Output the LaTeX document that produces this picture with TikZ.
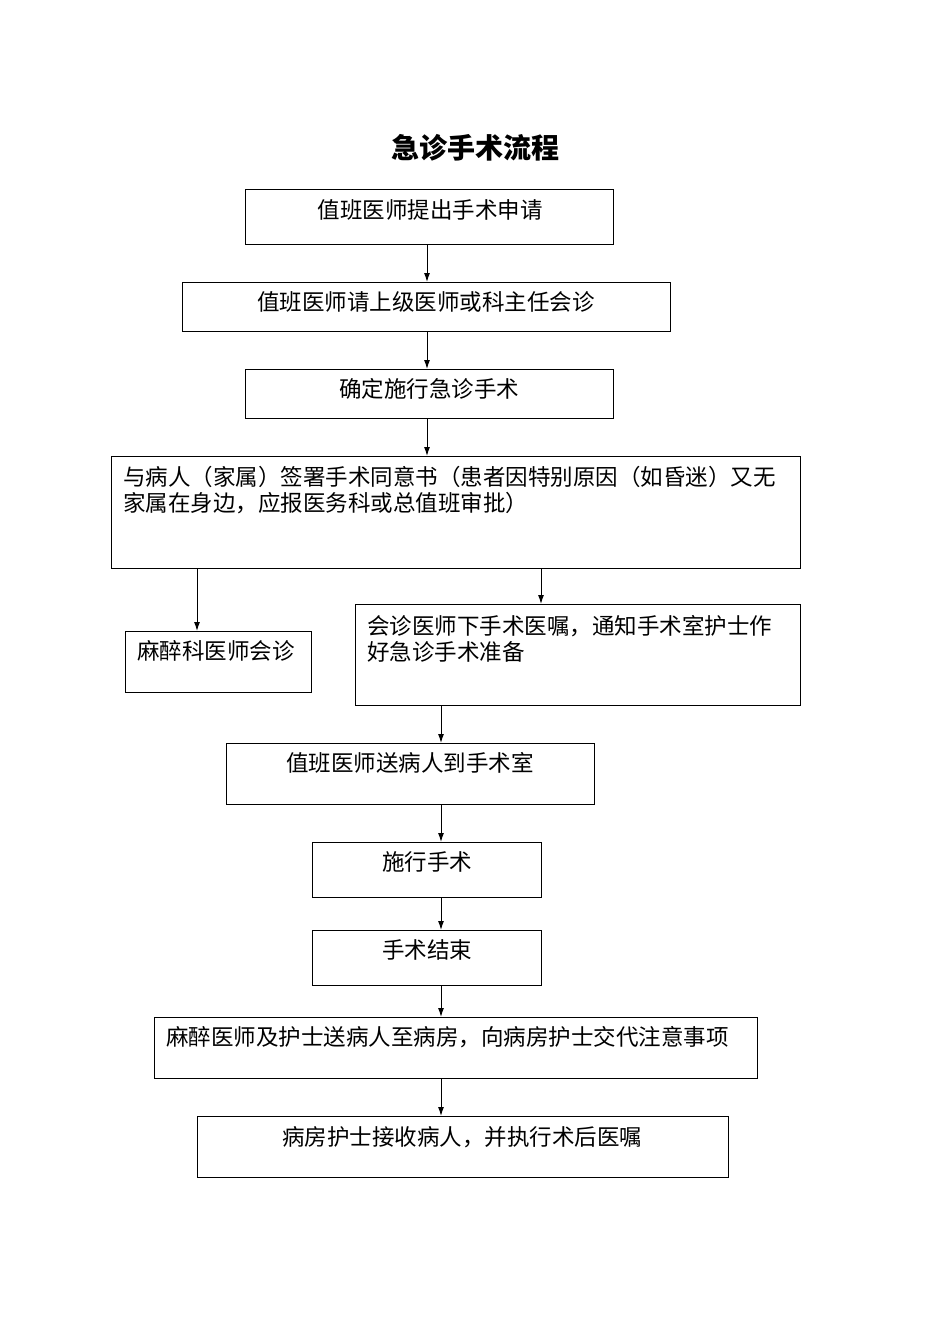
\documentclass[tikz,border=0pt]{standalone}
\usepackage{fontspec}
\setmainfont{Noto Sans CJK SC}
\usetikzlibrary{arrows.meta}
\begin{document}
\begin{tikzpicture}[x=1pt,y=-1pt,
  box/.style={draw,line width=1pt,inner sep=0pt},
  txt/.style={font=\fontsize{22.5}{25.5}\selectfont,inner sep=0pt},
  arr/.style={line width=1pt,-{Latex[length=9pt,width=6pt]}}]
\useasboundingbox (0,0) rectangle (950,1344);
\node[font=\fontsize{28}{30}\selectfont\bfseries,inner sep=0pt] (title) at (475,148) {急诊手术流程};
\newcommand{\mybox}[5]{\node[box,minimum width=#4-#2,minimum height=#5-#3,anchor=north west] (#1) at (#2,#3) {};}
\mybox{b1}{245}{189}{613}{244}
\mybox{b2}{182}{282}{670}{331}
\mybox{b3}{245}{369}{613}{418}
\mybox{b4}{111}{456}{800}{568}
\mybox{b5}{125}{631}{311}{692}
\mybox{b6}{355}{604}{800}{705}
\mybox{b7}{226}{743}{594}{804}
\mybox{b8}{312}{842}{541}{897}
\mybox{b9}{312}{930}{541}{985}
\mybox{b10}{154}{1017}{757}{1078}
\mybox{b11}{197}{1116}{728}{1177}
\node[txt] (t1) at (430,210) {值班医师提出手术申请};
\node[txt] (t2) at (426,302) {值班医师请上级医师或科主任会诊};
\node[txt] (t3) at (429,389) {确定施行急诊手术};
\node[txt,anchor=west,align=left] (t4) at (123,490) {与病人（家属）签署手术同意书（患者因特别原因（如昏迷）又无\\家属在身边，应报医务科或总值班审批）};
\node[txt,anchor=west] (t5) at (137,651) {麻醉科医师会诊};
\node[txt,anchor=west,align=left] (t6) at (367,639) {会诊医师下手术医嘱，通知手术室护士作\\好急诊手术准备};
\node[txt] (t7) at (410,763) {值班医师送病人到手术室};
\node[txt] (t8) at (427,862) {施行手术};
\node[txt] (t9) at (427,950) {手术结束};
\node[txt,anchor=west] (t10) at (166,1037) {麻醉医师及护士送病人至病房，向病房护士交代注意事项};
\node[txt] (t11) at (462,1137) {病房护士接收病人，并执行术后医嘱};
\coordinate (xa) at (427,0);
\coordinate (xb) at (197,0);
\coordinate (xc) at (541,0);
\coordinate (xd) at (441,0);
\draw[arr] (b1.south -| xa) -- (b2.north -| xa);
\draw[arr] (b2.south -| xa) -- (b3.north -| xa);
\draw[arr] (b3.south -| xa) -- (b4.north -| xa);
\draw[arr] (b4.south -| xb) -- (b5.north -| xb);
\draw[arr] (b4.south -| xc) -- (b6.north -| xc);
\draw[arr] (b6.south -| xd) -- (b7.north -| xd);
\draw[arr] (b7.south -| xd) -- (b8.north -| xd);
\draw[arr] (b8.south -| xd) -- (b9.north -| xd);
\draw[arr] (b9.south -| xd) -- (b10.north -| xd);
\draw[arr] (b10.south -| xd) -- (b11.north -| xd);
\end{tikzpicture}
\end{document}
